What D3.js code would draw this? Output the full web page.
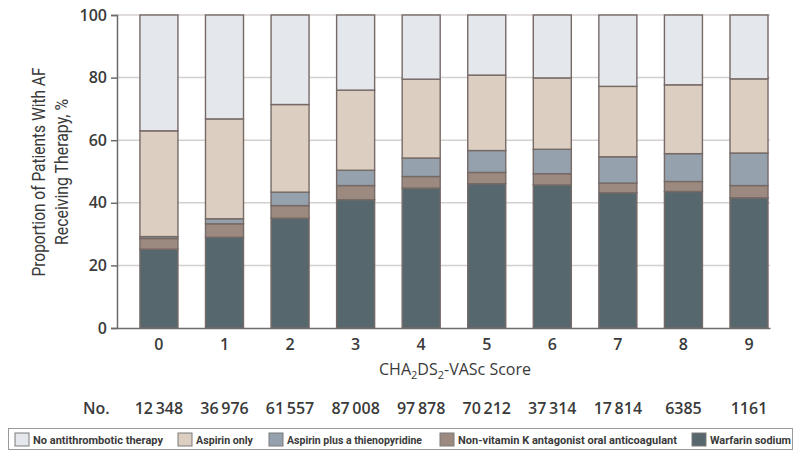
<!DOCTYPE html>
<html>
<head>
<meta charset="utf-8">
<script src="https://cdn.jsdelivr.net/npm/d3@7"></script>
<style>
  body { margin: 0; background: #fff; }
  svg { display: block; }
  .tick text { font-family: "Open Sans", "Noto Sans", sans-serif; }
  .narrow { font-family: Roboto, "Liberation Sans", sans-serif; }
</style>
</head>
<body>
<div id="chart"></div>
<script>
// CHA2DS2-VASc score categories and patient counts
var scores = ['0', '1', '2', '3', '4', '5', '6', '7', '8', '9'];
var counts = ['12\u2009348', '36\u2009976', '61\u2009557', '87\u2009008', '97\u2009878', '70\u2009212', '37\u2009314', '17\u2009814', '6385', '1161'];

// share of patients per therapy, %, bottom to top
var warfarin = [25.2, 29.0, 35.1, 41.0, 44.7, 46.1, 45.7, 43.2, 43.6, 41.6];
var noac     = [3.4, 4.3, 4.0, 4.5, 3.7, 3.6, 3.6, 3.1, 3.2, 3.9];
var thieno   = [0.6, 1.6, 4.3, 4.9, 5.9, 7.0, 7.8, 8.4, 8.9, 10.4];
var aspirin  = [33.8, 31.9, 28.0, 25.6, 25.2, 24.1, 22.8, 22.5, 22.0, 23.7];
var none     = [37.0, 33.2, 28.6, 24.0, 20.5, 19.2, 20.1, 22.8, 22.3, 20.4];

var yTicks = [0, 20, 40, 60, 80, 100];

var keys = ['warfarin', 'noac', 'thieno', 'aspirin', 'none'];
var colors = {
  none: '#e4e7ec', aspirin: '#dccec1', thieno: '#95a1ac', noac: '#9c897f', warfarin: '#56676d'
};
var legendItems = [
  {key: 'none', label: 'No antithrombotic therapy', x: 15, tw: 130},
  {key: 'aspirin', label: 'Aspirin only', x: 178, tw: 57},
  {key: 'thieno', label: 'Aspirin plus a thienopyridine', x: 269, tw: 135},
  {key: 'noac', label: 'Non-vitamin K antagonist oral anticoagulant', x: 440, tw: 219},
  {key: 'warfarin', label: 'Warfarin sodium', x: 692, tw: 81}
];

var w = 799, h = 451;
var mLeft = 117, mRight = 770, mTop = 15, mBottom = 328;

var table = scores.map(function (s, i) {
  return {score: s, warfarin: warfarin[i], noac: noac[i], thieno: thieno[i], aspirin: aspirin[i], none: none[i]};
});
var series = d3.stack().keys(keys)(table);

var x = d3.scaleBand()
  .domain(scores)
  .range([mLeft, mRight])
  .paddingInner(0.42)
  .paddingOuter(0.19)
  .align(0.92);

var y = d3.scaleLinear()
  .domain([0, 100])
  .range([mBottom, mTop]);

var svg = d3.select('#chart')
  .append('svg')
    .attr('width', w)
    .attr('height', h);

// gridlines
svg.append('g')
  .selectAll('line')
  .data(yTicks.slice(1))
  .enter()
  .append('line')
    .attr('x1', mLeft)
    .attr('x2', mRight)
    .attr('y1', function (d) { return y(d); })
    .attr('y2', function (d) { return y(d); })
    .attr('stroke', '#d4d0cf')
    .attr('stroke-width', 1.5);

// bars
svg.append('g')
  .selectAll('g')
  .data(series)
  .enter()
  .append('g')
    .attr('fill', function (d) { return colors[d.key]; })
  .selectAll('rect')
  .data(function (d) { return d; })
  .enter()
  .append('rect')
    .attr('x', function (d) { return x(d.data.score); })
    .attr('y', function (d) { return y(d[1]); })
    .attr('width', x.bandwidth())
    .attr('height', function (d) { return y(d[0]) - y(d[1]); })
    .attr('stroke', '#766a67')
    .attr('stroke-width', 1.4);

// y axis
var yAxis = svg.append('g')
  .attr('transform', 'translate(' + mLeft + ',0)')
  .call(d3.axisLeft(y).tickValues(yTicks).tickSize(6).tickPadding(4));
yAxis.select('.domain').attr('stroke', '#6b6b6b').attr('stroke-width', 1.5);
yAxis.selectAll('.tick line').attr('stroke', '#6b6b6b').attr('stroke-width', 1.5);
yAxis.selectAll('.tick text')
  .attr('font-size', 16)
  .attr('font-weight', 600)
  .attr('fill', '#3a3a3a');

// x axis
var xAxis = svg.append('g')
  .attr('transform', 'translate(0,' + mBottom + ')')
  .call(d3.axisBottom(x).tickSize(0).tickPadding(11));
xAxis.select('.domain').attr('stroke', '#6b6b6b').attr('stroke-width', 1.5);
xAxis.selectAll('.tick text')
  .attr('font-size', 16)
  .attr('font-weight', 600)
  .attr('fill', '#3a3a3a');

// y axis title (condensed)
var yTitle = svg.append('text')
  .attr('class', 'narrow')
  .attr('transform', 'translate(45,172) rotate(-90)')
  .attr('text-anchor', 'middle')
  .attr('font-size', 18)
  .attr('fill', '#3a3a3a');
yTitle.append('tspan').attr('x', 0).attr('dy', 0)
  .attr('textLength', 209).attr('lengthAdjust', 'spacingAndGlyphs')
  .text('Proportion of Patients With AF');
yTitle.append('tspan').attr('x', 0).attr('dy', 23)
  .attr('textLength', 146).attr('lengthAdjust', 'spacingAndGlyphs')
  .text('Receiving Therapy, %');

// x axis title
var xTitle = svg.append('text')
  .attr('x', 455)
  .attr('y', 375)
  .attr('text-anchor', 'middle')
  .attr('font-family', '"Open Sans", "Noto Sans", sans-serif')
  .attr('font-size', 16)
  .attr('fill', '#3a3a3a');
xTitle.append('tspan').text('CHA');
xTitle.append('tspan').attr('font-size', 11).attr('dy', 4).text('2');
xTitle.append('tspan').attr('dy', -4).text('DS');
xTitle.append('tspan').attr('font-size', 11).attr('dy', 4).text('2');
xTitle.append('tspan').attr('dy', -4).text('-VASc Score');

// patient counts
svg.append('text')
  .attr('x', 83)
  .attr('y', 414)
  .attr('font-family', '"Open Sans", "Noto Sans", sans-serif')
  .attr('font-size', 16)
  .attr('font-weight', 600)
  .attr('fill', '#3a3a3a')
  .text('No.');

svg.append('g')
  .selectAll('text')
  .data(counts)
  .enter()
  .append('text')
    .attr('x', function (d, i) { return x(scores[i]) + x.bandwidth() / 2; })
    .attr('y', 414)
    .attr('text-anchor', 'middle')
    .attr('font-family', '"Open Sans", "Noto Sans", sans-serif')
    .attr('font-size', 16)
    .attr('font-weight', 600)
    .attr('fill', '#3a3a3a')
    .text(function (d) { return d; });

// legend
svg.append('rect')
  .attr('x', 8.5)
  .attr('y', 428.5)
  .attr('width', 784)
  .attr('height', 21)
  .attr('fill', 'none')
  .attr('stroke', '#9a9a9a');

var leg = svg.append('g')
  .selectAll('g')
  .data(legendItems)
  .enter()
  .append('g')
    .attr('transform', function (d) { return 'translate(' + d.x + ',433)'; });

leg.append('rect')
  .attr('width', 14)
  .attr('height', 13)
  .attr('fill', function (d) { return colors[d.key]; })
  .attr('stroke', '#7a7a7a');

leg.append('text')
  .attr('class', 'narrow')
  .attr('x', 18)
  .attr('y', 10.5)
  .attr('font-size', 11.5)
  .attr('font-weight', 700)
  .attr('fill', '#3a3a3a')
  .attr('textLength', function (d) { return d.tw; })
  .attr('lengthAdjust', 'spacingAndGlyphs')
  .text(function (d) { return d.label; });
</script>
</body>
</html>
